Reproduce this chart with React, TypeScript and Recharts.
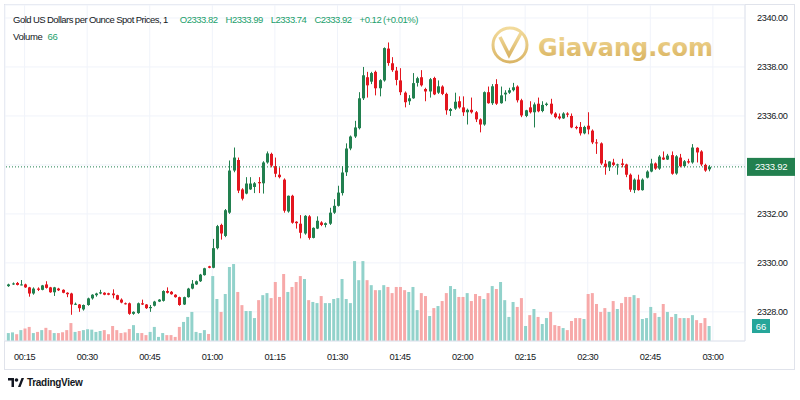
import React from 'react';
import { ComposedChart, Bar, XAxis, YAxis, CartesianGrid, ReferenceLine, Cell } from 'recharts';

// first candle is 00:11, one candle per minute
const START_MIN = 11;

const opens = [
  2329.05, 2329.12, 2329.18, 2329.10, 2329.12, 2329.00, 2328.75, 2328.95, 2328.90, 2329.12,
  2329.00, 2328.80, 2328.95, 2328.90, 2328.78, 2328.75, 2328.30, 2328.30, 2328.10, 2328.28,
  2328.55, 2328.68, 2328.75, 2328.78, 2328.76, 2328.75, 2328.68, 2328.50, 2328.35, 2328.35,
  2327.92, 2327.95, 2328.35, 2328.30, 2328.15, 2328.25, 2328.42, 2328.45, 2328.85, 2328.82,
  2328.70, 2328.60, 2328.30, 2328.60, 2328.95, 2329.12, 2329.25, 2329.50, 2329.86, 2329.80,
  2330.60, 2331.55, 2331.10, 2332.05, 2333.77, 2334.20, 2333.00, 2332.83, 2333.00, 2333.10,
  2333.30, 2333.25, 2334.10, 2334.45, 2333.95, 2333.60, 2333.40, 2332.10, 2332.74, 2331.68,
  2331.60, 2331.20, 2331.90, 2331.02, 2331.40, 2331.65, 2331.55, 2331.60, 2332.05, 2332.33,
  2332.85, 2333.70, 2334.67, 2335.16, 2335.50, 2336.72, 2337.58, 2337.40, 2337.80, 2337.13,
  2337.45, 2338.75, 2338.15, 2337.85, 2337.45, 2336.95, 2336.60, 2336.72, 2337.35, 2337.58,
  2337.10, 2337.00, 2337.55, 2336.95, 2337.20, 2336.90, 2336.20, 2336.30, 2336.60, 2336.35,
  2336.15, 2336.25, 2336.15, 2335.86, 2335.65, 2336.97, 2336.52, 2337.30, 2336.52, 2336.88,
  2336.95, 2337.05, 2337.20, 2336.64, 2336.00, 2336.35, 2336.15, 2336.50, 2336.20, 2336.45,
  2336.50, 2336.10, 2335.98, 2335.90, 2336.10, 2336.00, 2335.55, 2335.55, 2335.29, 2335.60,
  2335.40, 2334.92, 2334.88, 2334.05, 2333.90, 2334.10, 2333.98, 2334.06, 2334.02, 2333.60,
  2332.97, 2333.40, 2332.97, 2333.48, 2333.73, 2334.06, 2333.85, 2334.30, 2334.22, 2334.40,
  2333.65, 2334.30, 2333.95, 2334.15, 2334.10, 2334.70, 2334.55, 2334.00, 2333.82,
];

const highs = [
  2329.15, 2329.20, 2329.22, 2329.30, 2329.15, 2329.02, 2329.00, 2329.00, 2329.10, 2329.25,
  2329.02, 2329.02, 2328.98, 2328.92, 2328.80, 2328.78, 2328.38, 2328.32, 2328.30, 2328.58,
  2328.72, 2328.78, 2328.90, 2328.80, 2328.78, 2328.92, 2328.70, 2328.55, 2328.38, 2328.38,
  2328.02, 2328.38, 2328.50, 2328.32, 2328.28, 2328.45, 2328.52, 2328.88, 2329.00, 2328.85,
  2328.72, 2328.62, 2328.62, 2328.98, 2329.30, 2329.28, 2329.55, 2329.80, 2329.88, 2330.98,
  2331.55, 2331.60, 2332.20, 2334.18, 2334.71, 2334.30, 2333.05, 2333.50, 2333.50, 2333.30,
  2333.50, 2334.15, 2334.55, 2334.50, 2334.30, 2333.90, 2333.45, 2332.75, 2332.78, 2331.70,
  2331.95, 2331.95, 2331.95, 2331.45, 2331.90, 2331.70, 2331.65, 2332.25, 2332.60, 2333.15,
  2333.95, 2334.88, 2335.20, 2335.80, 2336.97, 2338.00, 2337.80, 2337.80, 2337.85, 2337.50,
  2338.80, 2339.00, 2338.40, 2338.00, 2337.95, 2337.00, 2336.85, 2337.75, 2337.60, 2337.87,
  2337.15, 2337.55, 2337.60, 2337.45, 2337.25, 2336.95, 2336.32, 2336.95, 2336.80, 2336.80,
  2336.30, 2336.75, 2336.20, 2335.90, 2337.00, 2337.20, 2337.30, 2337.50, 2337.20, 2337.05,
  2337.15, 2337.35, 2337.25, 2336.70, 2336.25, 2336.60, 2336.55, 2336.75, 2336.60, 2336.55,
  2336.70, 2336.15, 2336.10, 2336.15, 2336.15, 2336.10, 2335.60, 2335.75, 2335.60, 2336.15,
  2335.45, 2335.05, 2334.92, 2334.20, 2334.15, 2334.25, 2334.05, 2334.25, 2334.05, 2333.65,
  2333.45, 2333.60, 2333.45, 2333.78, 2334.25, 2334.10, 2334.40, 2334.55, 2334.45, 2334.55,
  2334.40, 2334.45, 2334.20, 2334.25, 2334.85, 2334.72, 2334.60, 2334.05, 2333.99,
];

const lows = [
  2329.02, 2329.10, 2329.08, 2329.08, 2328.98, 2328.62, 2328.70, 2328.85, 2328.88, 2328.95,
  2328.78, 2328.65, 2328.85, 2328.76, 2328.60, 2327.88, 2328.28, 2328.00, 2328.05, 2328.25,
  2328.50, 2328.62, 2328.72, 2328.68, 2328.68, 2328.55, 2328.48, 2328.35, 2328.30, 2327.88,
  2327.88, 2327.92, 2328.28, 2328.12, 2328.00, 2328.22, 2328.40, 2328.42, 2328.75, 2328.70,
  2328.58, 2328.25, 2328.28, 2328.58, 2328.92, 2329.10, 2329.22, 2329.48, 2329.78, 2329.78,
  2330.55, 2330.95, 2331.05, 2332.00, 2333.70, 2332.85, 2332.55, 2332.80, 2332.98, 2332.85,
  2332.85, 2332.83, 2334.05, 2333.90, 2333.50, 2333.45, 2332.05, 2332.05, 2331.60, 2331.40,
  2331.00, 2331.15, 2330.95, 2331.00, 2331.38, 2331.50, 2331.45, 2331.55, 2332.00, 2332.30,
  2332.75, 2333.55, 2334.60, 2335.10, 2335.45, 2336.65, 2336.75, 2337.30, 2336.84, 2336.80,
  2337.40, 2338.05, 2337.80, 2337.25, 2336.85, 2336.35, 2336.45, 2336.70, 2337.20, 2337.20,
  2336.60, 2336.75, 2336.85, 2336.90, 2336.85, 2336.05, 2336.00, 2336.25, 2336.30, 2336.00,
  2335.65, 2336.10, 2335.75, 2335.33, 2335.60, 2336.50, 2336.45, 2336.45, 2336.50, 2336.60,
  2336.90, 2337.00, 2336.55, 2335.95, 2335.95, 2336.10, 2335.53, 2336.15, 2336.15, 2336.40,
  2336.05, 2335.90, 2335.85, 2335.88, 2335.95, 2335.50, 2335.45, 2335.20, 2335.25, 2335.25,
  2334.85, 2334.45, 2334.00, 2333.60, 2333.75, 2333.95, 2333.60, 2333.90, 2333.50, 2332.90,
  2332.85, 2332.95, 2332.95, 2333.45, 2333.70, 2333.80, 2333.80, 2334.20, 2334.20, 2333.60,
  2333.60, 2333.90, 2333.90, 2334.05, 2334.05, 2334.10, 2333.95, 2333.72, 2333.74,
];

const closes = [
  2329.12, 2329.16, 2329.10, 2329.12, 2329.00, 2328.75, 2328.95, 2328.90, 2329.08, 2328.98,
  2328.80, 2329.00, 2328.88, 2328.78, 2328.72, 2328.30, 2328.33, 2328.15, 2328.28, 2328.55,
  2328.70, 2328.75, 2328.80, 2328.70, 2328.70, 2328.68, 2328.50, 2328.38, 2328.32, 2327.92,
  2328.00, 2328.35, 2328.30, 2328.15, 2328.20, 2328.42, 2328.50, 2328.85, 2328.78, 2328.72,
  2328.60, 2328.28, 2328.60, 2328.95, 2329.15, 2329.25, 2329.52, 2329.78, 2329.80, 2330.60,
  2331.50, 2331.20, 2332.15, 2333.77, 2334.30, 2332.95, 2332.62, 2333.24, 2333.24, 2333.25,
  2333.25, 2334.10, 2334.47, 2333.97, 2333.64, 2333.50, 2332.13, 2332.74, 2331.64, 2331.62,
  2331.23, 2331.92, 2331.02, 2331.43, 2331.72, 2331.55, 2331.62, 2332.05, 2332.33, 2332.87,
  2333.69, 2334.67, 2335.16, 2335.53, 2336.72, 2337.66, 2337.25, 2337.75, 2337.13, 2337.46,
  2338.77, 2338.16, 2337.87, 2337.47, 2336.97, 2336.56, 2336.72, 2337.34, 2337.54, 2337.25,
  2337.00, 2337.50, 2336.88, 2337.21, 2336.90, 2336.23, 2336.28, 2336.58, 2336.35, 2336.15,
  2336.25, 2336.15, 2335.86, 2335.65, 2336.97, 2336.52, 2337.21, 2336.50, 2336.84, 2336.95,
  2337.05, 2337.17, 2336.64, 2336.02, 2336.23, 2336.15, 2336.47, 2336.19, 2336.45, 2336.50,
  2336.10, 2335.95, 2335.90, 2336.10, 2336.05, 2335.53, 2335.50, 2335.29, 2335.55, 2335.45,
  2334.92, 2334.88, 2334.06, 2333.92, 2334.14, 2334.00, 2334.02, 2334.00, 2333.60, 2332.99,
  2333.40, 2332.97, 2333.40, 2333.73, 2334.06, 2333.85, 2334.34, 2334.22, 2334.38, 2333.64,
  2334.35, 2333.95, 2334.15, 2334.10, 2334.71, 2334.51, 2334.02, 2333.77, 2333.92,
];

const volumes = [
  35, 38, 30, 48, 55, 62, 35, 40, 48, 58,
  48, 35, 35, 38, 48, 79, 40, 44, 48, 52,
  50, 40, 44, 48, 30, 66, 48, 35, 38, 53,
  70, 35, 35, 26, 40, 62, 18, 35, 26, 26,
  18, 62, 84, 106, 128, 40, 35, 48, 31, 286,
  185, 128, 207, 326, 339, 216, 158, 132, 132, 101,
  180, 202, 211, 189, 260, 194, 295, 216, 238, 260,
  286, 273, 180, 172, 167, 198, 167, 167, 185, 189,
  273, 185, 167, 352, 268, 352, 268, 246, 224, 224,
  246, 238, 211, 238, 238, 224, 216, 238, 136, 211,
  198, 110, 145, 154, 176, 211, 242, 229, 194, 194,
  211, 176, 207, 198, 185, 211, 242, 229, 260, 180,
  106, 172, 150, 189, 66, 114, 141, 106, 75, 101,
  128, 70, 66, 57, 48, 88, 101, 101, 97, 207,
  211, 163, 128, 145, 128, 176, 141, 167, 194, 194,
  202, 189, 97, 101, 150, 123, 106, 163, 128, 106,
  119, 101, 101, 101, 114, 92, 79, 101, 66,
];

const priceTicks = [2328, 2330, 2332, 2334, 2336, 2338, 2340];
const timeTicks = [15, 30, 45, 60, 75, 90, 105, 120, 135, 150, 165, 180];
const timeLabels = ['00:15', '00:30', '00:45', '01:00', '01:15', '01:30', '01:45', '02:00', '02:15', '02:30', '02:45', '03:00'];

const TITLE = 'Gold US Dollars per Ounce Spot Prices, 1';
const LAST = { o: 2333.82, h: 2333.99, l: 2333.74, c: 2333.92, chg: 0.12, pct: 0.01, vol: 66 };

const UP = '#22804f';
const DOWN = '#e3161f';
const VOL_UP = '#92d2cb';
const VOL_DOWN = '#f7a9a9';
const TEXT = '#131722';
const FONT = '"Liberation Sans", Arial, sans-serif';
const AXIS_FONT = { fill: TEXT, fontSize: 9.2, fontFamily: FONT, letterSpacing: -0.4 };

const data = opens.map((o, i) => ({
  t: START_MIN + i,
  open: o,
  high: highs[i],
  low: lows[i],
  close: closes[i],
  volume: volumes[i],
}));

const Candle = (props: any) => {
  const { x, y, width, height, payload } = props;
  if (!payload) return null;
  const { open, close, high, low } = payload;
  const color = close >= open ? UP : DOWN;
  const top = Math.min(y, y + height);
  const h = Math.abs(height);
  const ppu = h / (high - low);
  const bodyTop = top + (high - Math.max(open, close)) * ppu;
  const bodyH = Math.max(1, Math.abs(open - close) * ppu);
  const cx = Math.round(x + width / 2) + 0.5;
  return (
    <g>
      <line x1={cx} x2={cx} y1={top} y2={top + h} stroke={color} strokeWidth={1} />
      <rect x={cx - 1.5} y={bodyTop} width={3} height={bodyH} fill={color} />
    </g>
  );
};

// the last price tag covers the tick next to it, as in TradingView
const PriceTick = (props: any) => {
  const { x, y, payload } = props;
  if (Math.abs(payload.value - LAST.c) < 0.5) return <g />;
  return (
    <text x={x} y={y} dy="0.355em" textAnchor="start" {...AXIS_FONT}>
      {payload.value.toFixed(2)}
    </text>
  );
};

const PriceTag = (props: any) => {
  const { x, y, width } = props.viewBox;
  const left = x + width + 2;
  return (
    <g>
      <rect x={left} y={y - 9} width={48} height={18} fill={UP} />
      <text x={left + 24} y={y + 3.5} textAnchor="middle" fill="#fff" fontSize={9.5} fontFamily={FONT} letterSpacing={-0.3}>
        {LAST.c.toFixed(2)}
      </text>
    </g>
  );
};

const VolTag = (props: any) => {
  const { x, y, width } = props.viewBox;
  const left = x + width + 7;
  return (
    <g>
      <rect x={left} y={y - 7} width={18} height={14} fill="#26a69a" />
      <text x={left + 9} y={y + 3.5} textAnchor="middle" fill="#fff" fontSize={9.5} fontFamily={FONT}>
        {LAST.vol}
      </text>
    </g>
  );
};

export default function App() {
  return (
    <div style={{ position: 'absolute', left: 0, top: 0, width: 800, height: 400, background: '#fff', fontFamily: FONT }}>
      <div style={{ position: 'absolute', left: 4, top: 4, width: 791, height: 366, border: '1px solid #e0e3eb', boxSizing: 'border-box' }} />
      <ComposedChart
        width={800}
        height={400}
        data={data}
        margin={{ top: 5, right: 0, left: 5, bottom: 29 }}
        style={{ position: 'absolute', left: 0, top: 0 }}
      >
        <CartesianGrid xAxisId="p" yAxisId="p" stroke="#f0f3fa" />
        <XAxis
          xAxisId="p"
          dataKey="t"
          type="number"
          domain={[10.3, 187.7]}
          allowDataOverflow
          ticks={timeTicks}
          tickFormatter={(v: number) => timeLabels[timeTicks.indexOf(v)]}
          height={30}
          tickLine={false}
          tickMargin={6}
          axisLine={{ stroke: '#e0e3eb' }}
          tick={AXIS_FONT}
        />
        <XAxis xAxisId="v" dataKey="t" type="number" domain={[10.3, 187.7]} allowDataOverflow hide />
        <YAxis
          yAxisId="p"
          orientation="right"
          domain={[2326.81, 2340.53]}
          allowDataOverflow
          ticks={priceTicks}
          width={55}
          tickLine={false}
          tickMargin={6}
          axisLine={{ stroke: '#e0e3eb' }}
          tick={<PriceTick />}
        />
        <YAxis yAxisId="v" hide domain={[0, 1480]} />
        <Bar xAxisId="v" yAxisId="v" dataKey="volume" barSize={3} isAnimationActive={false}>
          {data.map((d, i) => (
            <Cell key={i} fill={d.close >= d.open ? VOL_UP : VOL_DOWN} />
          ))}
        </Bar>
        <Bar
          xAxisId="p"
          yAxisId="p"
          dataKey={(d: any) => [d.low, d.high]}
          barSize={3}
          shape={Candle}
          isAnimationActive={false}
        />
        <ReferenceLine
          xAxisId="p"
          yAxisId="p"
          y={LAST.c}
          stroke={UP}
          strokeDasharray="1 2"
          label={<PriceTag />}
        />
        <ReferenceLine xAxisId="v" yAxisId="v" y={LAST.vol} stroke="none" label={<VolTag />} />
      </ComposedChart>

      <div
        style={{
          position: 'absolute',
          left: 13,
          top: 14,
          fontSize: 9.5,
          color: TEXT,
          whiteSpace: 'nowrap',
          letterSpacing: -0.5,
          wordSpacing: -0.3,
        }}
      >
        {TITLE}
        <span style={{ color: '#22a06b', marginLeft: 12 }}>
          O{LAST.o.toFixed(2)}
          <span style={{ marginLeft: 8 }}>H{LAST.h.toFixed(2)}</span>
          <span style={{ marginLeft: 8 }}>L{LAST.l.toFixed(2)}</span>
          <span style={{ marginLeft: 8 }}>C{LAST.c.toFixed(2)}</span>
          <span style={{ marginLeft: 8 }}>+{LAST.chg.toFixed(2)} (+{LAST.pct.toFixed(2)}%)</span>
        </span>
      </div>
      <div style={{ position: 'absolute', left: 13, top: 31, fontSize: 9.5, color: TEXT, letterSpacing: -0.4 }}>
        Volume <span style={{ color: '#22a06b', marginLeft: 3 }}>{LAST.vol}</span>
      </div>

      <svg style={{ position: 'absolute', left: 488, top: 24 }} width={240} height={44}>
        <defs>
          <linearGradient id="gold" x1="0" y1="0" x2="0" y2="1">
            <stop offset="0" stopColor="#f0d48a" />
            <stop offset="1" stopColor="#d4a94c" />
          </linearGradient>
        </defs>
        <circle cx={22} cy={21} r={17} fill="none" stroke="url(#gold)" strokeWidth={3} opacity={0.85} />
        <path d="M12 13 L21 31 L33 9" fill="none" stroke="url(#gold)" strokeWidth={3.5} opacity={0.85} />
        <text x={50} y={32} fontFamily='"DejaVu Sans", sans-serif' fontWeight="bold" fontSize={24} fill="url(#gold)" opacity={0.9}>
          Giavang.com
        </text>
      </svg>

      <div style={{ position: 'absolute', left: 8, top: 377, display: 'flex', alignItems: 'center', fontSize: 10, color: TEXT }}>
        <svg width={16} height={10}>
          <path d="M0 0 H6 V9 H3.5 V2.5 H0 Z" fill={TEXT} />
          <circle cx={8.5} cy={2} r={1.8} fill={TEXT} />
          <path d="M10 9 L13.5 0 H16 L12.5 9 Z" fill={TEXT} />
        </svg>
        <span style={{ marginLeft: 3, fontWeight: 'bold', letterSpacing: -0.3 }}>TradingView</span>
      </div>
    </div>
  );
}
